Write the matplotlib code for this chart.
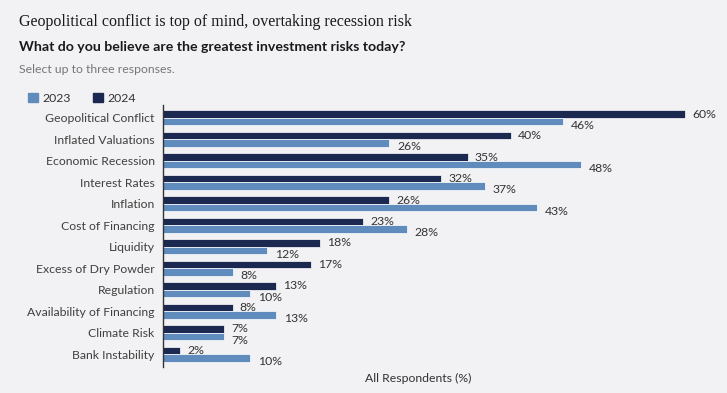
import matplotlib
matplotlib.use("Agg")
import matplotlib.pyplot as plt
import numpy as np
from matplotlib.patches import Patch

categories = ["Geopolitical Conflict", "Inflated Valuations", "Economic Recession",
              "Interest Rates", "Inflation", "Cost of Financing", "Liquidity",
              "Excess of Dry Powder", "Regulation", "Availability of Financing",
              "Climate Risk", "Bank Instability"]
values_2024 = [60, 40, 35, 32, 26, 23, 18, 17, 13, 8, 7, 2]
values_2023 = [46, 26, 48, 37, 43, 28, 12, 8, 10, 13, 7, 10]

bg = "#f2f2f4"
c23 = "#5f8cbd"
c24 = "#1b2850"

fig = plt.figure(figsize=(7.27, 3.93), dpi=100, facecolor=bg)
ax = fig.add_axes([0.2242, 0.066, 0.766, 0.667], facecolor=bg)

y = np.arange(len(categories))
h = 0.35
ax.barh(y - h/2, values_2024, height=h, color=c24, edgecolor="white", linewidth=0.5)
ax.barh(y + h/2, values_2023, height=h, color=c23, edgecolor="white", linewidth=0.5)

for yi, v in zip(y, values_2024):
    ax.text(v + 0.8, yi - h/2, f"{v}%", va="center", ha="left", fontsize=8.8,
            color="#333333", family="Lato")
for yi, v in zip(y, values_2023):
    ax.text(v + 0.9, yi + h/2 + 0.18, f"{v}%", va="center", ha="left", fontsize=8.8,
            color="#333333", family="Lato")

ax.set_xlim(0, 64)
ax.set_ylim(len(categories) - 0.4, -0.6)
ax.set_yticks(y)
ax.set_yticklabels(categories, fontsize=8.8, color="#404040", family="Lato")
ax.tick_params(axis="y", length=0, pad=6)
ax.set_xticks([])
for s in ["top", "right", "bottom"]:
    ax.spines[s].set_visible(False)
ax.spines["left"].set_color("#333333")
ax.spines["left"].set_linewidth(1.0)

fig.text(0.026, 0.943, "Geopolitical conflict is top of mind, overtaking recession risk",
         fontsize=11.5, family="Liberation Serif", color="#1a1a1a", va="center", ha="left")
fig.text(0.026, 0.88, "What do you believe are the greatest investment risks today?",
         fontsize=10.2, family="Lato", weight="bold", color="#1a1a1a", va="center", ha="left")
fig.text(0.026, 0.824, "Select up to three responses.",
         fontsize=8.8, family="Lato", color="#777777", va="center", ha="left")

handles = [Patch(color=c23, label="2023"), Patch(color=c24, label="2024")]
leg = fig.legend(handles=handles, loc="center left", bbox_to_anchor=(0.032, 0.75),
                 ncol=2, frameon=False, prop={"family": "Lato", "size": 8.8},
                 handlelength=0.8, handleheight=0.8, handletextpad=0.4, columnspacing=1.8,
                 borderaxespad=0.0)
for t in leg.get_texts():
    t.set_color("#333333")

fig.text(0.575, 0.038, "All Respondents (%)", fontsize=8.8, family="Lato",
         color="#333333", ha="center", va="center")

fig.savefig("out.png", dpi=100, facecolor=bg)
